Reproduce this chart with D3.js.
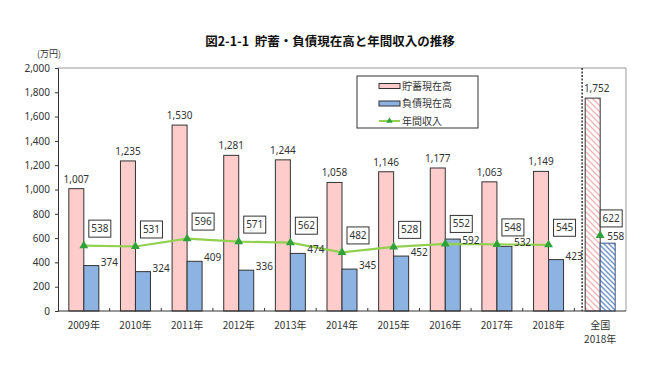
<!DOCTYPE html>
<html>
<head>
<meta charset="utf-8">
<script src="https://cdn.jsdelivr.net/npm/d3@7"></script>
<style>
  body { margin: 0; background: #fff; }
  svg { display: block; font-family: "Noto Sans CJK JP", "Noto Sans", sans-serif; }
</style>
</head>
<body>
<div id="chart"></div>
<script>
// data
const categories = ["2009年", "2010年", "2011年", "2012年", "2013年", "2014年", "2015年", "2016年", "2017年", "2018年", "全国"];
const savings = [1007, 1235, 1530, 1281, 1244, 1058, 1146, 1177, 1063, 1149, 1752];
const debts = [374, 324, 409, 336, 474, 345, 452, 592, 532, 423, 558];
const income = [538, 531, 596, 571, 562, 482, 528, 552, 548, 545, 622];
const yTicks = [0, 200, 400, 600, 800, 1000, 1200, 1400, 1600, 1800, 2000];
const seriesNames = ["貯蓄現在高", "負債現在高", "年間収入"];

const W = 660, H = 372;
const margin = { top: 68, right: 34, bottom: 61, left: 58 };
const width = W - margin.left - margin.right,
    height = H - margin.top - margin.bottom;

const svg = d3.select("#chart").append("svg")
    .attr("width", W).attr("height", H);

const defs = svg.append("defs");
function hatch(id, color, sw, size) {
    let p = defs.append("pattern")
        .attr("id", id)
        .attr("patternUnits", "userSpaceOnUse")
        .attr("width", size).attr("height", size);
    p.append("rect").attr("width", size).attr("height", size).attr("fill", "#fff");
    p.append("path")
        .attr("d", `M0,0L${size},${size}M${-size / 2},${size / 2}L${size / 2},${size * 1.5}M${size / 2},${-size / 2}L${size * 1.5},${size / 2}`)
        .attr("stroke", color).attr("stroke-width", sw);
}
hatch("hatch-pink", "#f3b3b3", 1.3, 6);
hatch("hatch-blue", "#6f93c4", 1.4, 5);

// title
svg.append("text")
    .attr("x", 330).attr("y", 46)
    .attr("text-anchor", "middle")
    .attr("font-size", 12.5).attr("font-weight", "bold")
    .attr("fill", "#111")
    .text("図2-1-1\u00a0\u00a0貯蓄・負債現在高と年間収入の推移");

svg.append("text")
    .attr("x", 37).attr("y", 57)
    .attr("font-size", 9).attr("fill", "#333")
    .text("(万円)");

const g = svg.append("g")
    .attr("transform", "translate(" + margin.left + "," + margin.top + ")");

const x = d3.scaleBand().domain(categories).range([0, width]).paddingInner(0).paddingOuter(0);
const y = d3.scaleLinear().domain([0, 2000]).range([height, 0]);
const bw = 15;
const cx = d => x(d) + x.bandwidth() / 2;
const isNat = d => d === "全国";
// hand-placed label nudges, as in the source figure
const debtNudge = { "2016年": 5 };
const boxNudge = { "2016年": -3 };

// frame (top / right in gray)
g.append("path")
    .attr("d", `M0,0H${width}V${height}`)
    .attr("fill", "none").attr("stroke", "#999").attr("stroke-width", 1);

// bars
const rows = categories.map((c, i) => ({ c: c, s: savings[i], d: debts[i], inc: income[i] }));

g.selectAll(".bar-s").data(rows).enter().append("rect")
    .attr("class", "bar-s")
    .attr("x", d => cx(d.c) - bw)
    .attr("y", d => y(d.s))
    .attr("width", bw)
    .attr("height", d => height - y(d.s))
    .attr("fill", d => isNat(d.c) ? "url(#hatch-pink)" : "#ffcccc")
    .attr("stroke", "#333").attr("stroke-width", 1);

g.selectAll(".bar-d").data(rows).enter().append("rect")
    .attr("class", "bar-d")
    .attr("x", d => cx(d.c))
    .attr("y", d => y(d.d))
    .attr("width", bw)
    .attr("height", d => height - y(d.d))
    .attr("fill", d => isNat(d.c) ? "url(#hatch-blue)" : "#8db3e2")
    .attr("stroke", d => isNat(d.c) ? "#3a5682" : "#333").attr("stroke-width", 1);

// dashed separator before 全国
let sepX = x("全国") + x.bandwidth() * 0.15;
g.append("line")
    .attr("x1", sepX).attr("x2", sepX)
    .attr("y1", 0).attr("y2", height)
    .attr("stroke", "#333").attr("stroke-width", 1.5)
    .attr("stroke-dasharray", "2,1.5");

// axes
const yAxis = d3.axisLeft(y).tickValues(yTicks).tickFormat(d3.format(",")).tickSize(3).tickPadding(5);
const ya = g.append("g").call(yAxis);
ya.select(".domain").attr("stroke", "#333");
ya.selectAll(".tick line").attr("stroke", "#333");
ya.selectAll("text").attr("font-size", 10).attr("fill", "#333")
    .attr("font-family", "Noto Sans, sans-serif");

const xa = g.append("g").attr("transform", "translate(0," + height + ")");
xa.append("line").attr("x1", 0).attr("x2", width).attr("stroke", "#333");
xa.selectAll(".tk").data(categories.slice(1)).enter().append("line")
    .attr("x1", d => x(d)).attr("x2", d => x(d))
    .attr("y1", 0).attr("y2", -3)
    .attr("stroke", "#333");
xa.selectAll(".xl").data(categories).enter().append("text")
    .attr("x", d => cx(d))
    .attr("y", 17.5)
    .attr("text-anchor", "middle")
    .attr("font-size", 10).attr("fill", "#333")
    .text(d => d);
xa.append("text")
    .attr("x", cx("全国")).attr("y", 32)
    .attr("text-anchor", "middle")
    .attr("font-size", 10).attr("fill", "#333")
    .text("2018年");

// income line (years only), national point separate
const yearRows = rows.filter(d => !isNat(d.c));
g.append("path")
    .datum(yearRows)
    .attr("d", d3.line().x(d => cx(d.c)).y(d => y(d.inc)))
    .attr("fill", "none").attr("stroke", "#92d050").attr("stroke-width", 2.2);

const tri = d3.symbol().type(d3.symbolTriangle).size(34);
g.selectAll(".mk").data(rows).enter().append("path")
    .attr("transform", d => "translate(" + cx(d.c) + "," + y(d.inc) + ")")
    .attr("d", tri)
    .attr("fill", "#2fa33a");

// value labels
g.selectAll(".ls").data(rows).enter().append("text")
    .attr("x", d => cx(d.c) - bw / 2 + (isNat(d.c) ? 4 : 0))
    .attr("y", d => y(d.s) - 6)
    .attr("text-anchor", "middle")
    .attr("font-size", 10).attr("fill", "#333")
    .attr("font-family", "Noto Sans, sans-serif")
    .text(d => d3.format(",")(d.s));

g.selectAll(".ld").data(rows).enter().append("text")
    .attr("x", d => isNat(d.c) ? cx(d.c) + 7 : cx(d.c) + bw + 2)
    .attr("y", d => (isNat(d.c) ? y(d.d) - 3 : y(d.d)) + (debtNudge[d.c] || 0))
    .attr("font-size", 10).attr("fill", "#333")
    .attr("font-family", "Noto Sans, sans-serif")
    .text(d => d.d);

const boxes = g.selectAll(".bx").data(rows).enter().append("g")
    .attr("transform", d => "translate(" + (cx(d.c) + (isNat(d.c) ? 11 : 16)) + "," + (y(d.inc) - 17 + (boxNudge[d.c] || 0)) + ")");
boxes.append("rect")
    .attr("x", -11).attr("y", -8.5)
    .attr("width", 22).attr("height", 17)
    .attr("fill", "#fff").attr("stroke", "#333").attr("stroke-width", 1);
boxes.append("text")
    .attr("y", 3.5)
    .attr("text-anchor", "middle")
    .attr("font-size", 10).attr("fill", "#333")
    .attr("font-family", "Noto Sans, sans-serif")
    .text(d => d.inc);

// legend
const lg = svg.append("g").attr("transform", "translate(357,76)");
lg.append("rect").attr("width", 121).attr("height", 52)
    .attr("fill", "#fff").attr("stroke", "#333").attr("stroke-width", 1);
const swatch = ["#ffcccc", "#8db3e2"];
seriesNames.forEach((n, i) => {
    let yy = 10 + i * 17.5;
    if (i < 2) {
        lg.append("rect").attr("x", 22).attr("y", yy - 2.5)
            .attr("width", 21).attr("height", 5)
            .attr("fill", swatch[i]).attr("stroke", "#333").attr("stroke-width", 1);
    } else {
        lg.append("line").attr("x1", 22).attr("x2", 43).attr("y1", yy).attr("y2", yy)
            .attr("stroke", "#92d050").attr("stroke-width", 2);
        lg.append("path").attr("transform", "translate(32.5," + yy + ")")
            .attr("d", d3.symbol().type(d3.symbolTriangle).size(18))
            .attr("fill", "#2fa33a");
    }
    lg.append("text").attr("x", 45).attr("y", yy + 3.5)
        .attr("font-size", 10).attr("fill", "#333")
        .text(n);
});
</script>
</body>
</html>
